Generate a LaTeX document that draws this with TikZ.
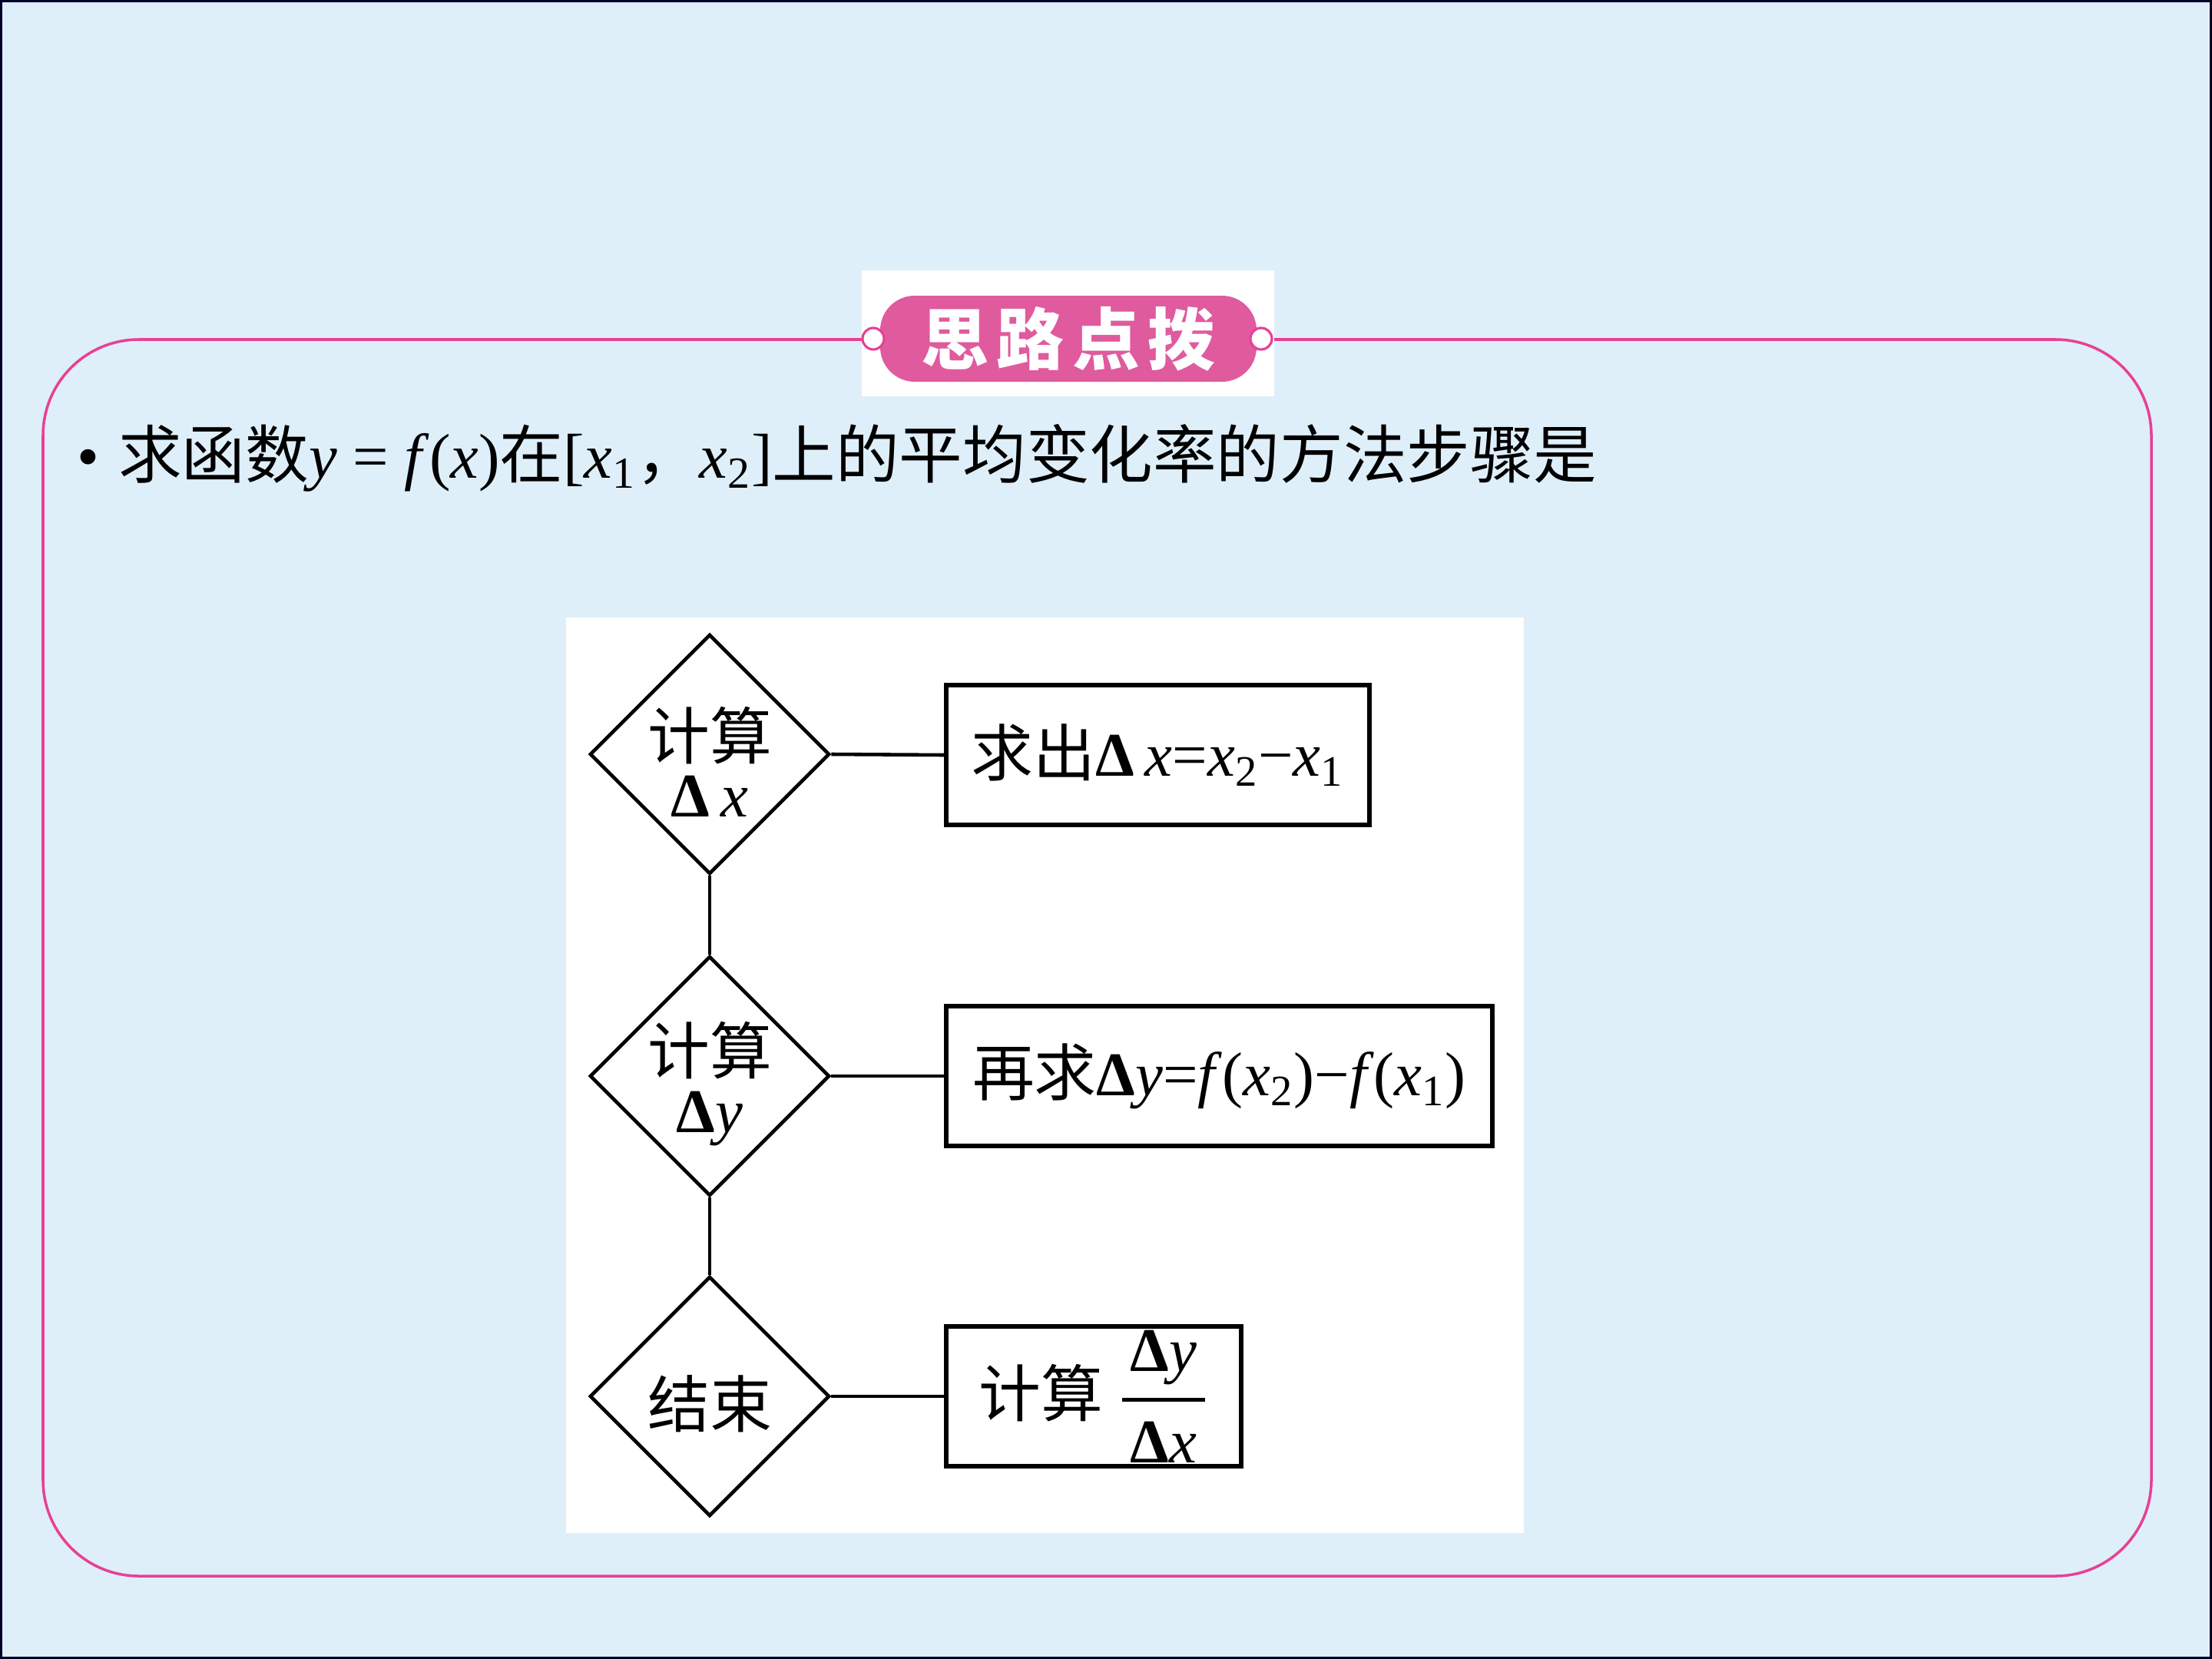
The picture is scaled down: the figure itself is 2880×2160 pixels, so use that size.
\documentclass[tikz,border=0pt]{standalone}
\usepackage{fontspec}
\usepackage{amsmath}
\setmainfont{Liberation Serif}
\newfontfamily\cjk{Noto Sans CJK SC}
\usetikzlibrary{shapes.geometric}
\definecolor{sky}{RGB}{222,239,249}
\definecolor{rose}{RGB}{232,64,150}
\definecolor{pill}{RGB}{224,90,158}
\newcommand{\Dx}{\textbf{Δ}\textit{x}}
\newcommand{\Dy}{\textbf{Δ}\textit{y}}

\begin{document}
\begin{tikzpicture}[x=0.1mm,y=-0.1mm,
  dia/.style={draw,diamond,line width=1.3pt,minimum width=31.2mm,minimum height=31.2mm,inner sep=0pt,
    label={[align=center,yshift=-1mm,font=\fontsize{23}{21.5}\selectfont]center:#1}},
  res/.style={draw,line width=1.6pt,minimum height=18.2mm,anchor=west,inner sep=0pt,font=\fontsize{23}{26}\selectfont},
  knob/.style={circle,draw=rose,fill=white,line width=0.9pt,minimum size=2.8mm,inner sep=0pt}]
\useasboundingbox (0,0) rectangle (2880,2160);
\fill[sky] (0,0) rectangle (2880,2160);
\draw[black!85!blue,line width=0.6mm] (0,0) rectangle (2880,2160);
\draw[rose,line width=1pt,rounded corners=12.5mm] (56,442) rectangle (2801,2052);
\fill[white] (1122,352) rectangle (1659,516);
\fill[white] (737,804) rectangle (1984,1996);
\node[fill=pill,rounded corners=4.5mm,minimum width=49mm,minimum height=11.2mm,text=white,font=\fontsize{25}{28}\selectfont\cjk\bfseries] (badge) at (1391,441) {思\kern3pt 路\kern3pt 点\kern3pt 拨};
\node[knob] (kl) at (1137,441) {};
\node[knob] (kr) at (1642,441) {};
\node[anchor=base west,inner sep=0pt,font=\fontsize{23.5}{28}\selectfont] (intro) at (100,622)
  {\textbullet\hspace{0.3em}{\cjk 求函数}\textit{y} = \textit{f}(\textit{x}){\cjk 在}[\textit{x}\textsubscript{1}{\cjk ，}\textit{x}\textsubscript{2}]{\cjk 上的平均变化率的方法步骤是}};
\node[dia={{\cjk 计算}\\\textbf{Δ}\,\textit{x}}] (d1) at (924,982) {};
\node[dia={{\cjk 计算}\\\Dy}] (d2) at (924,1401) {};
\node[dia={\cjk 结束}] (d3) at (924,1818) {};
\node[res,minimum width=55.1mm] (b1) at (1229,983) {{\cjk 求出}\textbf{Δ}\,\textit{x}=\textit{x}\textsubscript{2}−\textit{x}\textsubscript{1}};
\node[res,minimum width=71.1mm] (b2) at (1229,1401) {{\cjk 再求}\Dy=\textit{f}(\textit{x}\textsubscript{2})−\textit{f}(\textit{x}\textsubscript{1})};
\node[res,minimum width=38.4mm] (b3) at (1229,1818) {{\cjk 计算} $\genfrac{}{}{1.2pt}{0}{\mbox{\kern3pt\Dy\kern3pt}}{\mbox{\kern3pt\Dx\kern3pt}}$};
\foreach \i in {1,2,3} \draw[line width=1.3pt] (d\i.east) -- (b\i.west);
\foreach \i/\j in {1/2,2/3} \draw[line width=1.3pt] (d\i.south) -- (d\j.north);
\end{tikzpicture}
\end{document}
